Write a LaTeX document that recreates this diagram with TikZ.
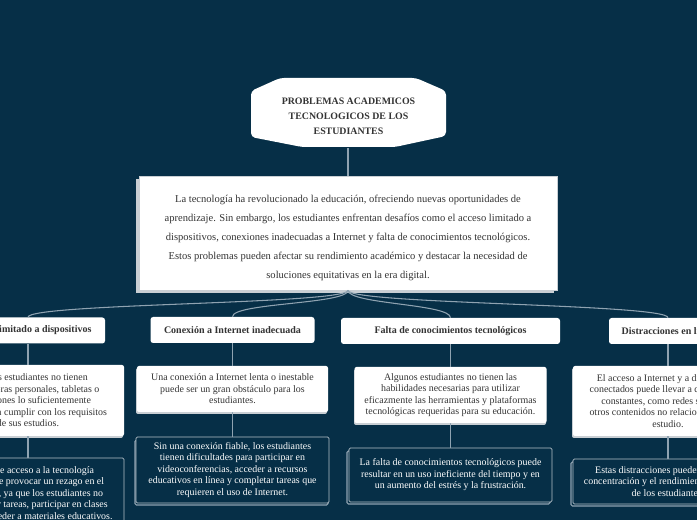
\documentclass[tikz,border=0pt]{standalone}
\usepackage{fontspec}
\setmainfont{Liberation Serif}
\definecolor{bg}{HTML}{062F47}
\definecolor{conncol}{HTML}{8FA3B1}
\definecolor{txt}{HTML}{333333}
\definecolor{shadowcol}{HTML}{C9CFD4}
\definecolor{darkborder}{HTML}{B5C0C8}
\tikzset{
  conn/.style={draw=conncol, line width=0.8pt},
  midbox/.style={fill=white, draw=shadowcol, line width=0.4pt, inner sep=0pt},
  midtext/.style={text=txt, align=center, font=\fontsize{7.9pt}{14.25pt}\selectfont, inner sep=0pt},
  header/.style={fill=white, rounded corners=2pt, text=txt, align=center,
     font=\fontsize{7.5pt}{9pt}\selectfont\bfseries, inner sep=0pt, minimum height=19.5pt},
  wbox/.style={fill=white, rounded corners=1.5pt, text=txt, align=center,
     font=\fontsize{7.45pt}{8.6pt}\selectfont, inner sep=0pt},
  dbox/.style={fill=bg, draw=darkborder, line width=0.5pt, rounded corners=1pt, text=white, align=center,
     font=\fontsize{7.45pt}{8.6pt}\selectfont, inner sep=0pt},
  wshadow/.style={fill=shadowcol, rounded corners=1.5pt},
  dshadow/.style={draw=conncol, line width=0.8pt, rounded corners=1pt},
}
\begin{document}
\begin{tikzpicture}[x=0.75pt, y=-0.75pt]
\useasboundingbox (0,0) rectangle (697,520);
\clip (0,0) rectangle (697,520);
\fill[bg] (0,0) rectangle (697,520);

% ---- title
\fill[white, rounded corners=3pt] (251,91) -- (280,78) -- (416,78) -- (446,91) -- (446,136) -- (395,147) -- (302,147) -- (251,137) -- cycle;
\node[font=\fontsize{7.4pt}{11.25pt}\selectfont\bfseries, text=txt, align=center] (title) at (348.5,116)
  {PROBLEMAS ACADEMICOS\\TECNOLOGICOS DE LOS\\ESTUDIANTES};
\coordinate (titlebot) at (348,148);

% ---- middle box
\fill[shadowcol] (136,179) rectangle (554,293);
\node[midbox, minimum width=313.5pt, minimum height=85.5pt] (mid) at (348,233) {};
\node[midtext] (midt) at (348,237.5)
  {La tecnología ha revolucionado la educación, ofreciendo nuevas oportunidades de\\
   aprendizaje. Sin embargo, los estudiantes enfrentan desafíos como el acceso limitado a\\
   dispositivos, conexiones inadecuadas a Internet y falta de conocimientos tecnológicos.\\
   Estos problemas pueden afectar su rendimiento académico y destacar la necesidad de\\
   soluciones equitativas en la era digital.};

\draw[conn] (titlebot) -- (mid.north);

% ---- headers
\node[header, minimum width=115.5pt] (h1) at (28,330.5) {Acceso limitado a dispositivos};
\node[header, minimum width=123pt] (h2) at (232.5,330) {Conexión a Internet inadecuada};
\node[header, minimum width=164.25pt] (h3) at (450.5,331) {Falta de conocimientos tecnológicos};
\node[header, minimum width=88.5pt] (h4) at (668,331) {Distracciones en línea};

\foreach \h in {h1,h2,h3,h4}{
  \draw[conn] (mid.south) .. controls +(0,14) and +(0,-14) .. (\h.north);
}

% ---- white boxes (shadows first)
\fill[wshadow] (-69,367) rectangle (123,438);
\fill[wshadow] (136,368) rectangle (327,414);
\fill[wshadow] (354,369) rectangle (546,425);
\fill[wshadow] (572,368) rectangle (762,438);

\node[wbox, minimum width=144pt, minimum height=53.25pt] (w1) at (28,400.5)
  {Algunos estudiantes no tienen\\computadoras personales, tabletas o\\smartphones lo suficientemente\\potentes para cumplir con los requisitos\\de sus estudios.};
\node[wbox, minimum width=143.25pt, minimum height=34.5pt] (w2) at (232.5,389)
  {Una conexión a Internet lenta o inestable\\puede ser un gran obstáculo para los\\estudiantes.};
\node[wbox, minimum width=144pt, minimum height=42pt] (w3) at (450.5,395)
  {Algunos estudiantes no tienen las\\habilidades necesarias para utilizar\\eficazmente las herramientas y plataformas\\tecnológicas requeridas para su educación.};
\node[wbox, minimum width=142.5pt, minimum height=52.5pt] (w4) at (668,401)
  {El acceso a Internet y a dispositivos\\conectados puede llevar a distracciones\\constantes, como redes sociales y\\otros contenidos no relacionados con el\\estudio.};

% ---- dark boxes (shadows first)
\draw[dshadow] (-69,461) rectangle (121,530);
\draw[dshadow] (135,440) rectangle (328,505);
\draw[dshadow] (347,451) rectangle (550,504);
\draw[dshadow] (571,462) rectangle (761,506);

\node[dbox, minimum width=144pt, minimum height=52.5pt] (d1) at (28,493)
  {La falta de acceso a la tecnología\\digital puede provocar un rezago en el\\aprendizaje, ya que los estudiantes no\\pueden hacer tareas, participar en clases\\en línea o acceder a materiales educativos.};
\node[dbox, minimum width=144.75pt, minimum height=49.5pt] (d2) at (232.5,470)
  {Sin una conexión fiable, los estudiantes\\tienen dificultades para participar en\\videoconferencias, acceder a recursos\\educativos en línea y completar tareas que\\requieren el uso de Internet.};
\node[dbox, minimum width=152.25pt, minimum height=40.5pt] (d3) at (450.5,475)
  {La falta de conocimientos tecnológicos puede\\resultar en un uso ineficiente del tiempo y en\\un aumento del estrés y la frustración.};
\node[dbox, minimum width=142.5pt, minimum height=33.75pt] (d4) at (668,481.5)
  {Estas distracciones pueden afectar la\\concentración y el rendimiento académico\\de los estudiantes.};

% ---- vertical connectors
\foreach \i in {1,2,3,4}{
  \draw[conn] (h\i.south) -- (w\i.north);
  \draw[conn] (w\i.south) -- (d\i.north);
}
\end{tikzpicture}
\end{document}
